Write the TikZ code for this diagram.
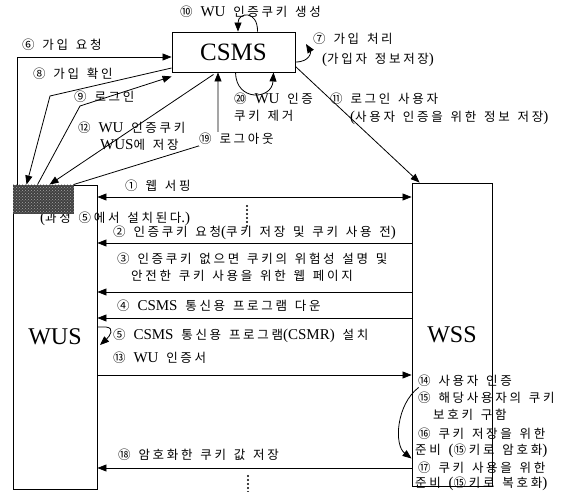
\documentclass[tikz,border=0pt]{standalone}
\usepackage{fontspec}
\setmainfont{Liberation Serif}[Scale=1.2]
\newfontfamily\kr{Noto Sans CJK KR}
\usetikzlibrary{arrows.meta,calc,patterns}
\XeTeXinterchartokenstate=1
\newXeTeXintercharclass\KrClass
\newcount\krcnt
\krcnt="AC00
\loop\XeTeXcharclass\krcnt=\KrClass\ifnum\krcnt<"D7A3 \advance\krcnt by 1 \repeat
\krcnt="2460
\loop\XeTeXcharclass\krcnt=\KrClass\ifnum\krcnt<"2473 \advance\krcnt by 1 \repeat
\XeTeXinterchartoks 0 \KrClass = {\kr}
\XeTeXinterchartoks 4095 \KrClass = {\kr}
\XeTeXinterchartoks \KrClass 0 = {\rmfamily}
\XeTeXinterchartoks \KrClass 4095 = {\rmfamily}
\XeTeXinterchartoks \KrClass \KrClass = {\hskip2.7pt\relax}
\tikzset{
  box/.style={draw, line width=0.9pt, inner sep=0pt, font=\fontsize{20.8}{24}\selectfont},
  arr/.style={line width=0.8pt, -{Triangle[length=9pt,width=7pt]}},
  darr/.style={line width=0.8pt, {Triangle[length=9pt,width=7pt]}-{Triangle[length=9pt,width=7pt]}},
  lbl/.style={anchor=west, inner sep=0pt, align=left, font=\fontsize{12.5}{17}\selectfont,
    execute at begin node={\spaceskip=7.8pt plus 1pt\relax}},
  dots/.style={line width=2.2pt, line cap=round, dash pattern=on 0pt off 4pt}
}
\begin{document}
\begin{tikzpicture}[x=1pt,y=-1pt]
\fill[white] (0,0) rectangle (563,492);
\useasboundingbox (0,0) rectangle (563,492);
% main boxes
\node[box, minimum width=123pt, minimum height=40pt] (csms) at (233.5,52) {CSMS};
\node[box, minimum width=84pt, minimum height=304pt, font=\fontsize{20}{23}\selectfont] (wus) at (55,337) {WUS};
\node[box, minimum width=80pt, minimum height=303pt, font=\fontsize{20}{23}\selectfont] (wss) at (452,334.5) {WSS};
% text under the dark block and the block
\node[lbl] (t0) at (40,219) {(과정 ⑤에서 설치된다.)};
\fill[black!75] (wus.north west) rectangle ([xshift=61pt,yshift=-29pt]wus.north west);
\fill[pattern=crosshatch dots, pattern color=gray!70] (wus.north west) rectangle ([xshift=61pt,yshift=-29pt]wus.north west);
% labels near CSMS
\node[lbl] (t10) at (180,12) {⑩ WU 인증쿠키 생성};
\node[lbl] (t6) at (22,45) {⑥ 가입 요청};
\node[lbl] (t7) at (313,39) {⑦ 가입 처리};
\node[lbl] (t7b) at (322,60) {(가입자 정보저장)};
\node[lbl] (t8) at (33,74) {⑧ 가입 확인};
\node[lbl] (t9) at (74,97) {⑨ 로그인};
\node[lbl] (t20) at (234,107) {⑳ WU 인증\\쿠키 제거};
\node[lbl] (t11) at (330,99) {⑪ 로그인 사용자};
\node[lbl] (t11b) at (350,118) {(사용자 인증을 위한 정보 저장)};
\node[lbl] (t12) at (78,128) {⑫ WU 인증쿠키};
\node[lbl] (t12b) at (100,145) {WUS에 저장};
% bend points
\coordinate (b8) at (50,96);
\coordinate (b9) at (80,106);
\coordinate (b19) at (218,140);
% connectors to/from CSMS
\draw[arr] ([xshift=5pt]wus.north west) |- ([yshift=-5pt]csms.west);
\draw[arr] ([yshift=-16pt]csms.west) -- (b8) -- ([xshift=14pt]wus.north west);
\draw[arr] ([xshift=25pt]wus.north west) -- (b9) -- ([yshift=-4pt]csms.south west);
\draw[arr] ([xshift=-20pt,yshift=-2pt]csms.south) -- ([xshift=37pt]wus.north west);
\draw[arr] ([xshift=61pt]wus.north west) -- (b19) -- (csms.south -| b19);
\node[lbl, fill=white, inner ysep=1pt] (t19) at (199,139) {⑲ 로그아웃};
\draw[arr] ([yshift=6pt]csms.south east) -- ([xshift=8pt]wss.north west);
\draw[arr] ([xshift=24pt]csms.north) .. controls (258,10) and (238,12) .. ([xshift=4.5pt]csms.north);
\draw[arr] ([xshift=2pt]csms.south) .. controls (236,102) and (272,100) .. ([xshift=40pt]csms.south);
\draw[arr] ([yshift=-10pt]csms.east) .. controls (310,62) and (311,52) .. (306,44);
% horizontal messages
\node[lbl] (t1) at (125,186) {① 웹 서핑};
\draw[darr] (wus.east |- 0,197) -- (wss.west |- 0,197);
\draw[dots] (247,206) -- (247,226);
\node[lbl] (t2) at (113,233) {② 인증쿠키 요청(쿠키 저장 및 쿠키 사용 전)};
\draw[arr] (wss.west |- 0,243) -- (wus.east |- 0,243);
\node[lbl] (t3) at (117,259) {③ 인증쿠키 없으면 쿠키의 위험성 설명 및};
\node[lbl] (t3b) at (131,276) {안전한 쿠키 사용을 위한 웹 페이지};
\draw[arr] (wss.west |- 0,292) -- (wus.east |- 0,292);
\node[lbl] (t4) at (117,306) {④ CSMS 통신용 프로그램 다운};
\draw[arr] (wss.west |- 0,318) -- (wus.east |- 0,318);
\node[lbl] (t5) at (113,336) {⑤ CSMS 통신용 프로그램(CSMR) 설치};
\draw[arr] ([yshift=10pt]wus.east) -- (106,327) .. controls (115,328) and (110,336) .. (100,345);
\node[lbl] (t13) at (113,358) {⑬ WU 인증서};
\draw[arr] (wus.east |- 0,375) -- (wss.west |- 0,375);
\node[lbl] (t18) at (118,455) {⑱ 암호화한 쿠키 값 저장};
\draw[arr] (wss.west |- 0,468) -- (wus.east |- 0,468);
\draw[dots] (248,476) -- (248,492);
% WSS side texts
\node[lbl] (t14) at (418,381) {⑭ 사용자 인증};
\node[lbl] (t15) at (418,398) {⑮ 해당사용자의 쿠키};
\node[lbl] (t15b) at (433,415) {보호키 구함};
\node[lbl] (t16) at (418,434) {⑯ 쿠키 저장을 위한};
\node[lbl] (t16b) at (415,451) {준비 (⑮키로 암호화)};
\node[lbl] (t17) at (418,468) {⑰ 쿠키 사용을 위한};
\node[lbl] (t17b) at (415,484) {준비 (⑮키로 복호화)};
\draw[arr] ([xshift=7pt,yshift=-53pt]wss.west) .. controls (396,405) and (394,445) .. ([yshift=-124pt]wss.west);
\end{tikzpicture}
\end{document}
